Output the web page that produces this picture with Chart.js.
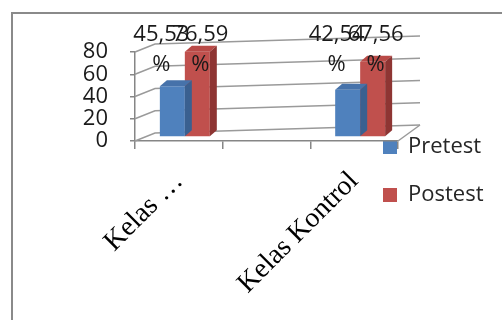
<!DOCTYPE html>
<html>
<head>
<meta charset="utf-8">
<script src="https://cdn.jsdelivr.net/npm/chart.js@4.4.0/dist/chart.umd.min.js"></script>
<style>
  html, body { margin: 0; padding: 0; background: #fff; }
  #wrap  { position: relative; width: 502px; height: 320px; overflow: hidden; }
  #frame { position: absolute; left: 11px; top: 12px; width: 600px; height: 400px;
           border-left: 2px solid #8a8a8a; border-top: 2px solid #8a8a8a; }
  canvas { position: absolute; left: 0; top: 0; }
</style>
</head>
<body>
<div id="wrap">
  <div id="frame"></div>
  <canvas id="chart" width="502" height="320"></canvas>
</div>
<script>
// ── Data ─────────────────────────────────────────────────────
const categories = ['Kelas …', '', 'Kelas Kontrol'];
const pretest    = [45.53, null, 42.54];
const postest    = [76.59, null, 67.56];
const yTicks     = [0, 20, 40, 60, 80];

// ── 3D look ──────────────────────────────────────────────────
const SHIFT_X = 6, SHIFT_Y = -4;   // bars sit half way into the depth
const DEP_X = 7, DEP_Y = -6;       // bar top / side depth
const labelShift = [-11, 3];
const faces = [
  { top: '#4672aa', side: '#3a6090' },
  { top: '#b94a47', side: '#8e3533' },
];
const GRID = '#9a9a9a';
const AXIS = '#868686';

function backPt(ca, x, y) {
  const t = (x - ca.left) / (ca.right - ca.left);
  return [x + 20 + 2 * t, y - 8 - 8 * t];
}

function fmt(v) {
  return v.toFixed(2).replace('.', ',');
}

const walls3d = {
  id: 'walls3d',
  afterLayout(chart) {
    // legend overlaps the right end of the plot in the original
    const lg  = chart.legend;
    const pad = lg.options.labels.padding;
    lg.left = 383 - pad;  lg.right  = 502;
    lg.top  = 110;        lg.bottom = 320;
    lg.width  = lg.right - lg.left;
    lg.height = lg.bottom - lg.top;
  },
  beforeDatasetsDraw(chart) {
    const { ctx, chartArea: ca, scales: { y } } = chart;
    ctx.save();
    ctx.strokeStyle = GRID;
    ctx.lineWidth = 1.5;
    yTicks.forEach(v => {
      const py = y.getPixelForValue(v);
      const a = backPt(ca, ca.left, py);
      const b = backPt(ca, ca.right, py);
      ctx.beginPath();
      ctx.moveTo(ca.left, py);
      ctx.lineTo(a[0], a[1]);
      ctx.lineTo(b[0], b[1]);
      ctx.stroke();
    });
    const y0 = y.getPixelForValue(0);
    const c  = backPt(ca, ca.right, y0);
    ctx.beginPath();
    ctx.moveTo(ca.right, y0);
    ctx.lineTo(c[0], c[1]);
    ctx.stroke();
    ctx.restore();

    ctx.save();
    ctx.translate(SHIFT_X, SHIFT_Y);
  },
  afterDatasetDraw(chart, args) {
    const ctx = chart.ctx;
    const f = faces[args.index];
    const values = chart.data.datasets[args.index].data;
    args.meta.data.forEach((bar, j) => {
      if (values[j] == null) return;
      const x0 = bar.x - bar.width / 2, x1 = bar.x + bar.width / 2;
      const top = bar.y, base = bar.base;
      ctx.fillStyle = f.top;
      ctx.beginPath();
      ctx.moveTo(x0, top); ctx.lineTo(x1, top);
      ctx.lineTo(x1 + DEP_X, top + DEP_Y); ctx.lineTo(x0 + DEP_X, top + DEP_Y);
      ctx.closePath(); ctx.fill();
      ctx.fillStyle = f.side;
      ctx.beginPath();
      ctx.moveTo(x1, top); ctx.lineTo(x1 + DEP_X, top + DEP_Y);
      ctx.lineTo(x1 + DEP_X, base + DEP_Y); ctx.lineTo(x1, base);
      ctx.closePath(); ctx.fill();
    });
  },
  afterDatasetsDraw(chart) {
    const { ctx, chartArea: ca } = chart;
    ctx.restore();

    // data labels, wrapped onto two lines like the original
    ctx.save();
    ctx.font = '22px "Open Sans"';
    ctx.fillStyle = '#1a1a1a';
    ctx.textAlign = 'center';
    ctx.textBaseline = 'middle';
    chart.data.datasets.forEach((ds, i) => {
      chart.getDatasetMeta(i).data.forEach((bar, j) => {
        if (ds.data[j] == null) return;
        const x = bar.x + SHIFT_X + labelShift[i];
        ctx.fillText(fmt(ds.data[j]), x, ca.top - 17);
        ctx.fillText('%', x, ca.top + 13);
      });
    });
    ctx.restore();
  }
};

// ── Chart ────────────────────────────────────────────────────
new Chart(document.getElementById('chart'), {
  type: 'bar',
  data: {
    labels: categories,
    datasets: [
      { label: 'Pretest', data: pretest, backgroundColor: '#4F81BD' },
      { label: 'Postest', data: postest, backgroundColor: '#C0504D' },
    ]
  },
  options: {
    responsive: false,
    animation: false,
    categoryPercentage: 0.57,
    barPercentage: 1,
    layout: { padding: { left: 0, top: 52, right: 0, bottom: 0 } },
    plugins: {
      tooltip: { enabled: false },
      legend: {
        position: 'right',
        align: 'start',
        maxWidth: 104,
        labels: {
          boxWidth: 14, boxHeight: 14, padding: 26,
          color: '#262626',
          font: { family: 'Open Sans', size: 22 }
        }
      }
    },
    scales: {
      x: {
        afterFit: s => { s.height = 179; },
        grid:   { drawOnChartArea: false, tickLength: 8, color: AXIS, lineWidth: 1.5 },
        border: { color: AXIS, width: 1.5 },
        ticks: {
          autoSkip: false, maxRotation: 45, minRotation: 45, padding: 16,
          color: '#000',
          font: { family: 'Liberation Serif', size: 28 }
        }
      },
      y: {
        min: 0, max: 80,
        afterFit: s => { s.width = 135; },
        afterBuildTicks: s => { s.ticks = yTicks.map(v => ({ value: v })); },
        grid:   { drawOnChartArea: false, tickLength: 5, color: AXIS, lineWidth: 1.5 },
        border: { color: AXIS, width: 1.5 },
        ticks: {
          autoSkip: false, padding: 22,
          color: '#1a1a1a',
          font: { family: 'Open Sans', size: 22 }
        }
      }
    }
  },
  plugins: [walls3d]
});
</script>
</body>
</html>
